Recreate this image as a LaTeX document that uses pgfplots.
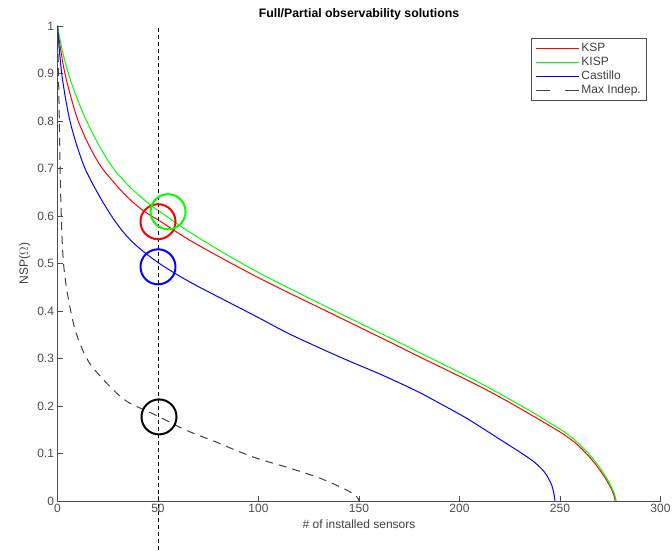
\documentclass[border=0pt]{standalone}
\usepackage{fontspec}
\setmainfont{Liberation Sans}
\usepackage{pgfplots}
\pgfplotsset{compat=1.18}
\begin{document}
\begin{tikzpicture}[x=1pt,y=1pt]
\begin{axis}[
  name=ax,
  scale only axis,
  width=603pt, height=475pt,
  xmin=0, xmax=300, ymin=0, ymax=1,
  clip=false,
  axis x line*=bottom, axis y line*=left,
  axis line style={black!70, line width=0.8pt},
  tick align=inside,
  tick style={black!70, line width=0.8pt},
  major tick length=5pt,
  xtick={0,50,...,300},
  ytick={0,0.1,...,1},
  yticklabels={0,0.1,0.2,0.3,0.4,0.5,0.6,0.7,0.8,0.9,1},
  /pgf/number format/assume math mode=true,
  ticklabel style={font=\fontsize{12}{14}\selectfont, text=black!70},
  xlabel={\# of installed sensors},
  ylabel={NSP($\Omega$)},
  label style={font=\fontsize{12}{14}\selectfont, text=black!75},
  title={\textbf{Full/Partial observability solutions}},
  title style={font=\fontsize{12.3}{14}\selectfont, yshift=-4pt},
  legend style={at={(0.978,0.975)}, anchor=north east, draw=black!70, line width=0.8pt, font=\fontsize{12}{13}\selectfont, text=black!75, row sep=0pt, inner xsep=4pt, inner ysep=3pt},
  legend cell align=left,
  legend image code/.code={\draw[#1, line width=1pt] (0pt,0pt) -- (43pt,0pt);},
]
\addplot[red, line width=1pt, smooth, tension=0.5] coordinates {
(0,1)(1.6,0.95)(3.7,0.9)(6.7,0.85)(10.3,0.8)(15.5,0.75)(22,0.702)(32,0.652)(40,0.62)(47,0.599)(50,0.592)(65,0.551)(84,0.506)(100,0.47)(115.7,0.437)(140,0.387)(170.4,0.324)(180.3,0.303)(203.6,0.255)(220,0.219)(236.6,0.179)(245,0.158)(249,0.148)(253.3,0.136)(258,0.121)(263.3,0.099)(267,0.081)(270,0.064)(273,0.045)(275,0.03)(276.6,0.015)(277.5,0)};
\addlegendentry{KSP}
\addplot[green, line width=1pt, smooth, tension=0.5] coordinates {
(0,1)(2.3,0.95)(5.4,0.9)(9.5,0.85)(14.5,0.8)(20.5,0.75)(27.8,0.7)(37,0.657)(46.9,0.621)(50,0.612)(65,0.568)(84,0.519)(100,0.481)(115.7,0.447)(140,0.396)(170.4,0.333)(180.3,0.312)(203.6,0.263)(220,0.226)(236.6,0.186)(245,0.164)(249,0.154)(253.3,0.142)(258,0.126)(263.3,0.104)(267,0.086)(270,0.069)(273,0.05)(275,0.034)(277,0.016)(278,0)};
\addlegendentry{KISP}
\addplot[blue, line width=1pt, smooth, tension=0.5] coordinates {
(0,1)(0.9,0.95)(2.1,0.9)(3.9,0.85)(6.2,0.8)(9.5,0.75)(13.7,0.7)(19.5,0.652)(26.1,0.605)(32,0.57)(38.6,0.54)(50,0.502)(65,0.463)(84,0.421)(100,0.386)(115.7,0.351)(140,0.304)(160,0.268)(170.4,0.248)(180.3,0.228)(190,0.206)(203.6,0.174)(220,0.13)(230,0.103)(236.6,0.084)(241,0.067)(243.4,0.054)(245.9,0.033)(247,0.015)(247.5,0)};
\addlegendentry{Castillo}
\addplot[black!75, line width=1pt, dash pattern=on 8pt off 6pt, smooth, tension=0.5,
  legend image code/.code={\draw[black!75, line width=1pt, dash pattern=on 14pt off 15pt] (0pt,0pt) -- (43pt,0pt);}] coordinates {
(0,1)(0.5,0.9)(1,0.78)(1.5,0.66)(2.2,0.56)(3,0.5)(4.6,0.445)(7.7,0.378)(11,0.333)(16,0.29)(24.5,0.248)(34.4,0.21)(49.3,0.18)(64,0.149)(79,0.124)(97,0.093)(115.7,0.069)(130.6,0.048)(143.9,0.023)(148.9,0.009)(150,0)};
\addlegendentry{Max Indep.}
\addplot[black, line width=0.8pt, dash pattern=on 4pt off 3pt, forget plot] coordinates {(50,0.995)(50,-0.105)};
\addplot[only marks, mark=o, red, mark size=17.5pt, mark options={line width=2pt}, forget plot] coordinates {(50,0.588)};
\addplot[only marks, mark=o, green, mark size=17.5pt, mark options={line width=2pt}, forget plot] coordinates {(55,0.609)};
\addplot[only marks, mark=o, blue, mark size=17.5pt, mark options={line width=2pt}, forget plot] coordinates {(50,0.493)};
\addplot[only marks, mark=o, black, mark size=17.5pt, mark options={line width=2pt}, forget plot] coordinates {(50.5,0.177)};
\end{axis}
\pgfresetboundingbox
\path[use as bounding box] ([xshift=-57.5pt,yshift=-50pt]ax.south west) rectangle ([xshift=11.5pt,yshift=26pt]ax.north east);
\end{tikzpicture}
\end{document}
